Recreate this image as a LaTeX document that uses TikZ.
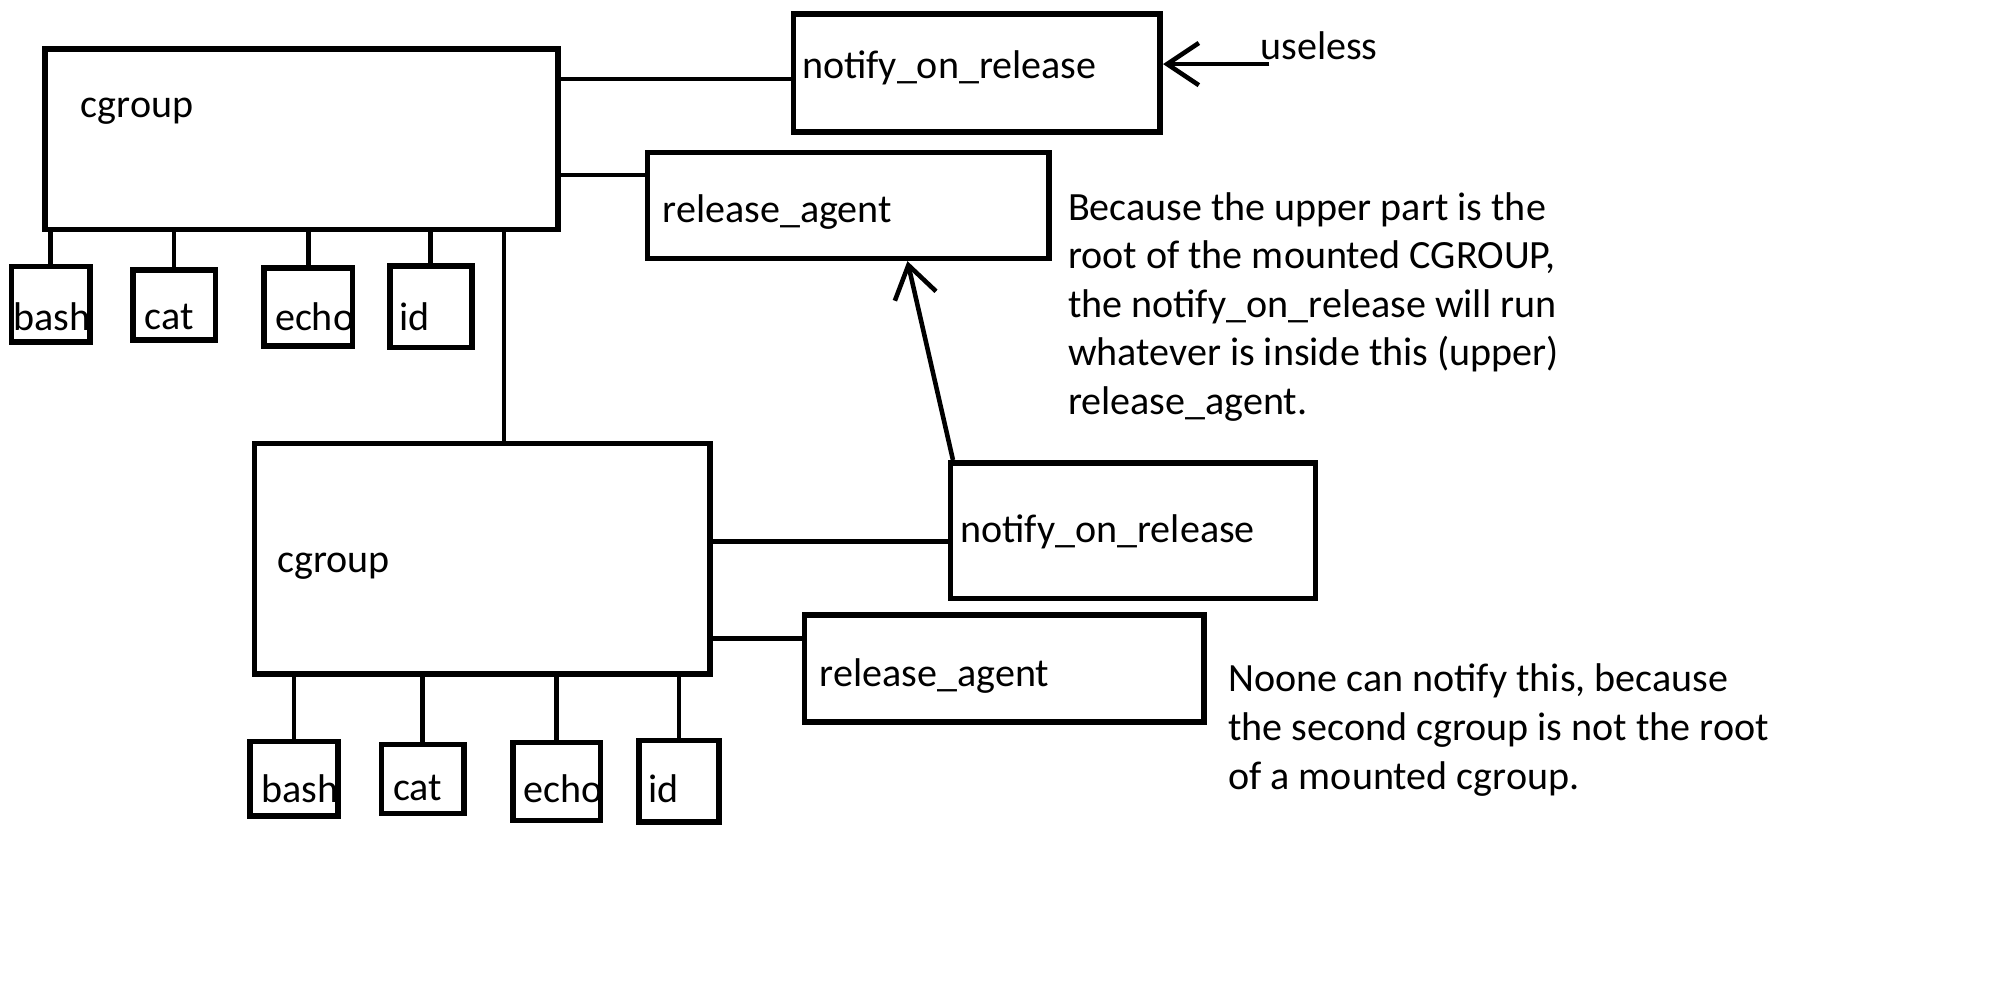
\documentclass[tikz,border=0pt]{standalone}
\usepackage{fontspec}
\setmainfont{Carlito}
\usetikzlibrary{arrows.meta}
\usetikzlibrary{calc}
\usetikzlibrary{fit}
\usetikzlibrary{positioning}

\begin{document}
\begin{tikzpicture}[x=0.01282cm, y=-0.01282cm,
  box/.style={draw, line width=1.6pt, inner sep=0pt},
  conn/.style={line width=1.3pt},
  arr/.style={line width=1.3pt, -{Straight Barb[length=9pt,width=12pt]}},
  lbl/.style={anchor=west, inner sep=0pt, font=\fontsize{11.4pt}{13.8pt}\selectfont},
  note/.style={anchor=north west, inner sep=0pt, align=left, font=\fontsize{11.4pt}{13.8pt}\selectfont}]
  \useasboundingbox (0,0) rectangle (1560,780);

  % upper cgroup (root)
  \node[box, fit={(35,38) (435,179)}] (cgA) {};
  \node[lbl] (cgA-t) at (62.5,87) {cgroup};
  \node[box, fit={(619,11) (905,103)}] (norA) {};
  \node[lbl] (norA-t) at (625,53) {notify\_on\_release};
  \node[box, fit={(505,119) (818,201.5)}] (raA) {};
  \node[lbl] (raA-t) at (516.5,165) {release\_agent};
  \draw[conn] (cgA.east |- 0,61.6) -- (norA.west |- 0,61.6);
  \draw[conn] (cgA.east |- 0,136.5) -- (raA.west |- 0,136.5);

  \foreach \n/\xa/\ya/\xb/\yb/\t/\tx in {bashA/9/208/70/267/bash/10,
      catA/103.5/210.6/168/265/cat/112.5, echoA/206/209/275/270/echo/214,
      idA/304/207.5/368/271/id/311} {
    \node[box, fit={(\xa,\ya) (\xb,\yb)}] (\n) {};
    \node[lbl] (\n-t) at (\tx,247) {\t};
    \draw[conn] (cgA.south -| \n.north) -- (\n.north);
  }

  % lower cgroup
  \node[box, fit={(198.5,346) (554,525.7)}] (cgB) {};
  \node[lbl] (cgB-t) at (216,442) {cgroup};
  \node[box, fit={(741.5,361) (1026,466.7)}] (norB) {};
  \node[lbl] (norB-t) at (748.5,415) {notify\_on\_release};
  \node[box, fit={(627.5,479.7) (939,563)}] (raB) {};
  \node[lbl] (raB-t) at (639,527) {release\_agent};
  \draw[conn] (cgB.east |- 0,422.5) -- (norB.west |- 0,422.5);
  \draw[conn] (cgB.east |- 0,498) -- (raB.west |- 0,498);
  \draw[conn] (cgA.south -| 393,0) -- (cgB.north -| 393,0);

  \foreach \n/\xa/\ya/\xb/\yb/\t/\tx in {bashB/195/578.5/263.5/636.5/bash/203.5,
      catB/297.5/580.6/362/634.4/cat/306, echoB/400/579/468.5/640/echo/408,
      idB/498.5/577.7/561/641/id/505} {
    \node[box, fit={(\xa,\ya) (\xb,\yb)}] (\n) {};
    \node[lbl] (\n-t) at (\tx,615) {\t};
    \draw[conn] (cgB.south -| \n.north) -- (\n.north);
  }

  % arrows
  \draw[arr] ($(norB.north west)+(4,0)$) -- ($(raA.south west)+(205,0)$);
  \coordinate (uselessEnd) at (990,50);
  \draw[arr] (uselessEnd) -- (norA.east |- uselessEnd);
  \node[lbl] (uselessT) at (982.5,36) {useless};

  % notes
  \node[note] (noteA) at (832.5,149.5) {Because the upper part is the\\root of the mounted CGROUP,\\the notify\_on\_release will run\\whatever is inside this (upper)\\release\_agent.};
  \node[note] (noteB) at (957.5,517.5) {Noone can notify this, because\\the second cgroup is not the root\\of a mounted cgroup.};
\end{tikzpicture}
\end{document}
